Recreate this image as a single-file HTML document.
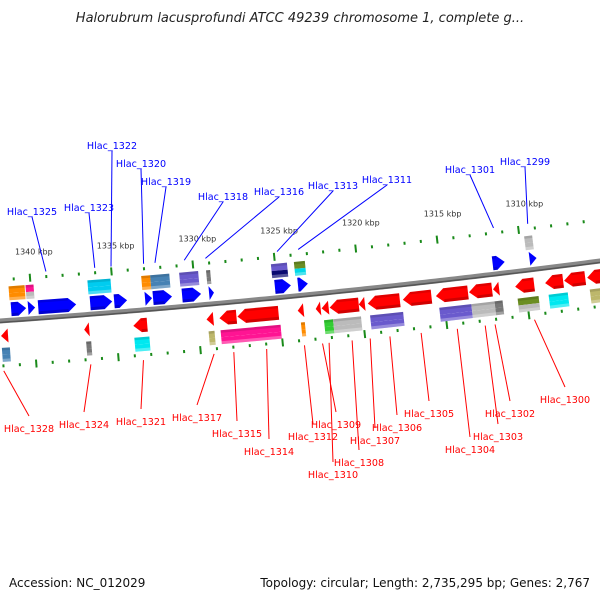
<!DOCTYPE html>
<html><head><meta charset="utf-8"><style>
html,body{margin:0;padding:0;background:#fff;}
svg{display:block;font-family:"DejaVu Sans","Liberation Sans",sans-serif;}
</style></head><body>
<svg id="chart" width="600" height="600" viewBox="0 0 600 600">
<text x="300" y="22" text-anchor="middle" font-size="13" font-style="italic" fill="#222">Halorubrum lacusprofundi ATCC 49239 chromosome 1, complete g...</text>
<text x="9" y="587" font-size="12" fill="#111">Accession: NC_012029</text>
<text x="590" y="587" font-size="12" fill="#111" text-anchor="end">Topology: circular; Length: 2,735,295 bp; Genes: 2,767</text>
<g id="ticks"></g><g id="backbone"></g><g id="genes"></g><g id="labels"></g>
</svg>
<script>
// forward strand CDS arrows [kbpA, kbpB]
const fwdCds=[[1341.29,1340.37],[1340.25,1339.82],[1339.63,1337.31],[1336.45,1335.10],[1334.98,1334.19],[1333.09,1332.66],[1332.60,1331.44],[1330.82,1329.66],[1329.17,1328.87],[1325.14,1324.16],[1323.73,1323.12],[1311.81,1311.07],[1309.55,1309.12]];
// forward gene boxes [kbpA,kbpB,colorTop,colorBottom]
const fwdBox=[[1341.35,1340.37,'#ff8c00','#ff8c00'],[1340.31,1339.82,'#ff1493','#bbbbbb'],[1336.51,1335.10,'#00ccf0','#00ccf0'],[1333.21,1332.66,'#ff8c00','#ff8c00'],[1332.66,1331.49,'#4682b4','#4682b4'],[1330.88,1329.72,'#6a5acd','#6a5acd'],[1329.23,1328.98,'#777777','#777777'],[1325.25,1324.27,'#6a5acd','#0a0a70'],[1323.84,1323.17,'#6b8e23','#00d8e8'],[1309.71,1309.22,'#bbbbbb','#bbbbbb']];
// reverse strand CDS arrows
const revCds=[[1342.02,1341.59],[1336.94,1336.63],[1333.94,1333.09],[1329.47,1329.05],[1328.68,1327.64],[1327.58,1325.07],[1323.90,1323.54],[1322.80,1322.50],[1322.44,1322.01],[1321.95,1320.17],[1320.17,1319.80],[1319.62,1317.66],[1317.48,1315.73],[1315.46,1313.50],[1313.44,1312.03],[1311.97,1311.60],[1310.62,1309.46],[1308.79,1307.69],[1307.63,1306.34],[1306.22,1305.30]];
// reverse gene boxes
const revBox=[[1342.02,1341.53,'#4682b4','#4682b4'],[1336.88,1336.57,'#777777','#777777'],[1333.94,1333.02,'#00e8f0','#00e8f0'],[1329.41,1329.05,'#bdb76b','#bdb76b'],[1328.68,1325.01,'#ff1493','#ff1493'],[1323.78,1323.54,'#ff8c00','#ff8c00'],[1322.37,1321.82,'#32cd32','#32cd32'],[1321.82,1320.11,'#bbbbbb','#bbbbbb'],[1319.56,1317.54,'#6a5acd','#6a5acd'],[1315.34,1313.38,'#6a5acd','#6a5acd'],[1313.38,1311.97,'#bbbbbb','#bbbbbb'],[1311.97,1311.48,'#777777','#777777'],[1310.56,1309.28,'#6b8e23','#bbbbbb'],[1308.67,1307.50,'#00e8f0','#00e8f0'],[1306.16,1305.30,'#bdb76b','#bdb76b']];
const tickLabels=[1340,1335,1330,1325,1320,1315,1310];
const fwdLabels=[['Hlac_1325',32,211,1339.0],['Hlac_1323',89,207,1336.0],['Hlac_1322',112,145,1335.0],['Hlac_1320',141,163,1333.0],['Hlac_1319',166,181,1332.3],['Hlac_1318',223,196,1330.5],['Hlac_1316',279,191,1329.2],['Hlac_1313',333,185,1324.8],['Hlac_1311',387,179,1323.5],['Hlac_1301',470,169,1311.5],['Hlac_1299',525,161,1309.4]];
const revLabels=[['Hlac_1328',29,428,1342.0],['Hlac_1324',84,424,1336.7],['Hlac_1321',141,421,1333.5],['Hlac_1317',197,417,1329.2],['Hlac_1315',237,433,1328.0],['Hlac_1314',269,451,1326.0],['Hlac_1312',313,436,1323.7],['Hlac_1309',336,424,1322.6],['Hlac_1310',333,474,1322.2],['Hlac_1308',359,462,1320.8],['Hlac_1307',375,440,1319.7],['Hlac_1306',397,427,1318.5],['Hlac_1305',429,413,1316.6],['Hlac_1304',470,449,1314.4],['Hlac_1303',498,436,1312.7],['Hlac_1302',510,413,1312.1],['Hlac_1300',565,399,1309.7]];

const NS='http://www.w3.org/2000/svg';
const X=k=>33+(1340-k)*16.35;
const Y=x=>321-0.07*x-0.00005*x*x;
const ang=x=>Math.atan(-0.07-0.0001*x);
function mk(tag,attrs,parent){const e=document.createElementNS(NS,tag);for(const k in attrs)e.setAttribute(k,attrs[k]);parent.appendChild(e);return e;}
const gT=document.getElementById('ticks'),gB=document.getElementById('backbone'),gG=document.getElementById('genes'),gL=document.getElementById('labels');

let d='';for(let x=-5;x<=605;x+=5){d+=(x<0?'M':'L')+x+','+Y(x).toFixed(2);}
const bb1=mk('path',{d:d,stroke:'#888',fill:'none','stroke-width':5},gB);


const bb2=mk('path',{d:d,stroke:'#555',fill:'none','stroke-width':1.5,transform:'translate(0,1.5)'},gB);



for(let k=1343;k>=1304;k--){
  const x=X(k);if(x<-5||x>605)continue;
  const a=ang(x)*180/Math.PI;const major=k%5===0;
  [-41,45].forEach(off=>{
    const g=mk('g',{transform:`translate(${x},${Y(x)}) rotate(${a})`},gT);
    const r=mk('rect',{x:-1,y:off-(major?4:1.5),width:2,height:major?8:3,fill:'#1a8a1a'},g);
    
    
  });
}
tickLabels.forEach(k=>{
  const x=X(k);
  const t=mk('text',{x:x-18,y:Y(x)-64,'font-size':8,fill:'#333'},gT);
  t.textContent=k+' kbp';
  
  
});

function drawArrow(item,off,dir,color,name){
  const x1=Math.min(X(item[0]),X(item[1])),x2=Math.max(X(item[0]),X(item[1]));
  const w=(x2-x1)/Math.cos(ang(x1));const h=14;const tip=Math.min(w,8);
  const g=mk('g',{transform:`translate(${x1},${Y(x1)}) rotate(${ang(x1)*180/Math.PI})`},gG);
  
  
  const t=off-h/2,b=off+h/2;
  const p= dir>0 ? `0,${t} ${w-tip},${t} ${w},${off} ${w-tip},${b} 0,${b}` : `${w},${t} ${tip},${t} 0,${off} ${tip},${b} ${w},${b}`;
  mk('polygon',{points:p,fill:color},g);
  const bx=dir>0?0:tip;
  mk('rect',{x:bx,y:b-3,width:Math.max(0,w-tip),height:3,fill:'#000',opacity:0.18},g);
  mk('rect',{x:bx,y:t,width:Math.max(0,w-tip),height:2.5,fill:'#000',opacity:0.12},g);
}
function drawBox(item,off,name){
  const x1=Math.min(X(item[0]),X(item[1])),x2=Math.max(X(item[0]),X(item[1]));
  const w=(x2-x1)/Math.cos(ang(x1));const h=14;
  const g=mk('g',{transform:`translate(${x1},${Y(x1)}) rotate(${ang(x1)*180/Math.PI})`},gG);
  
  
  mk('rect',{x:0,y:off-h/2,width:w,height:h/2,fill:item[2]},g);
  mk('rect',{x:0,y:off,width:w,height:h/2,fill:item[3]},g);
  mk('rect',{x:0,y:off-h/2,width:w,height:2.5,fill:'#000',opacity:0.12},g);
  mk('rect',{x:0,y:off+h/2-3,width:w,height:3,fill:'#fff',opacity:0.3},g);
}
fwdBox.forEach(b=>drawBox(b,-27,'forward-gene-box'));
fwdCds.forEach(c=>drawArrow(c,-11,1,'#0000ff','forward-cds-arrow'));
revCds.forEach(c=>drawArrow(c,15,-1,'#ff0000','reverse-cds-arrow'));
revBox.forEach(b=>drawBox(b,34,'reverse-gene-box'));

function label(arr,color,up){
  arr.forEach(([txt,lx,ly,k])=>{
    const x=X(k),a=ang(x);const off=up?-46:50;
    const gx=x-Math.sin(a)*off, gy=Y(x)+Math.cos(a)*off;
    const l=mk('line',{x1:lx,y1:up?ly+6:ly-12,x2:gx,y2:gy,stroke:color,'stroke-width':1},gL);
    
    
    const t=mk('text',{x:lx,y:ly+4,'text-anchor':'middle','font-size':9.6,fill:color},gL);
    t.textContent=txt;
    
    
  });
}
label(fwdLabels,'#0000ff',true);
label(revLabels,'#ff0000',false);
</script>
</body></html>
